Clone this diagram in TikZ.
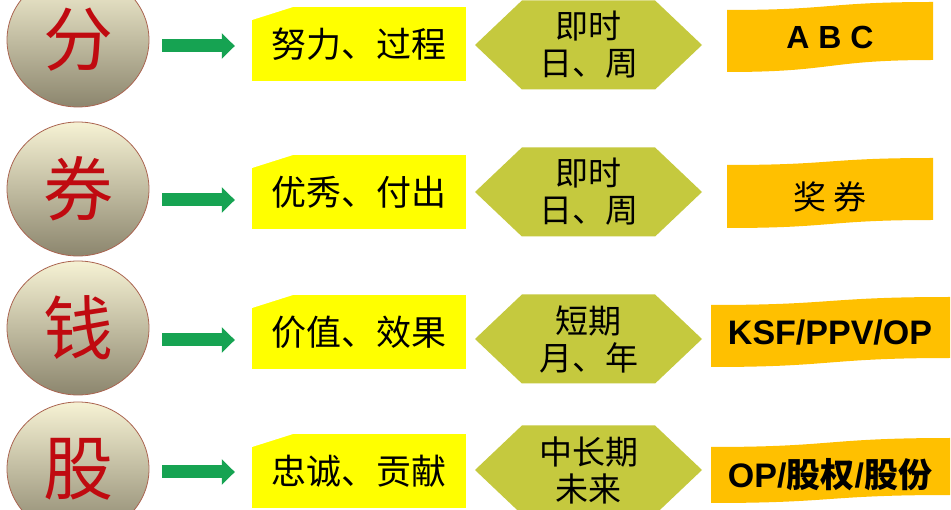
\documentclass[tikz,border=0pt]{standalone}
\usepackage{fontspec}
\setmainfont{Liberation Sans}
\newfontfamily\cjk{Noto Sans CJK SC}
\usetikzlibrary{shapes.geometric,shapes.symbols,arrows.meta}
\begin{document}
\begin{tikzpicture}[x=1pt,y=1pt,
  coin/.style={ellipse,draw=rimColor,line width=0.8pt,inner sep=0pt,
    minimum width=142pt,minimum height=134pt,
    top color=coinTop,middle color=coinMid,bottom color=coinBot,
    text=coinText,font=\cjk\fontsize{70}{70}\selectfont},
  tagbox/.style={rectangle,fill=tagColor,inner sep=0pt,
    minimum width=214pt,minimum height=74pt,
    path picture={\fill[white] (path picture bounding box.north west) -- ++(41pt,0)
      -- ++(-41pt,-13pt) -- cycle;},
    font=\cjk\fontsize{35}{35}\selectfont},
  hexbox/.style={signal,signal to=east and west,signal pointer angle=87,
    fill=hexColor,inner sep=0pt,minimum width=227pt,minimum height=89pt,
    align=center,font=\cjk\fontsize{33}{37}\selectfont},
  bannertext/.style={inner sep=0pt,font=\bfseries\fontsize{34}{34}\selectfont},
  flow/.style={draw=flowColor,line width=13pt,-{Triangle[length=13pt,width=25pt]},
    shorten <=13pt,shorten >=17pt}]
\definecolor{rimColor}{RGB}{170,100,80}
\definecolor{coinTop}{RGB}{246,242,212}
\definecolor{coinMid}{RGB}{214,208,172}
\definecolor{coinBot}{RGB}{140,134,110}
\definecolor{coinText}{RGB}{192,10,16}
\definecolor{tagColor}{RGB}{255,255,0}
\definecolor{hexColor}{RGB}{197,201,62}
\definecolor{bannerColor}{RGB}{255,192,0}
\definecolor{flowColor}{RGB}{22,163,82}
\path[use as bounding box,fill=white] (0,0) rectangle (951,509);
\begin{scope}
\path[clip] (0,0) rectangle (951,509);

% coins
\node[coin] (c1) at (78,469) {分};
\node[coin] (c2) at (78,320) {券};
\node[coin] (c3) at (78,181) {钱};
\node[coin] (c4) at (78, 40) {股};

% yellow tags
\node[tagbox] (b1) at (359,465) {努力、过程\hspace{12pt}};
\node[tagbox] (b2) at (359,317) {优秀、付出\hspace{12pt}};
\node[tagbox] (b3) at (359,177) {价值、效果\hspace{12pt}};
\node[tagbox] (b4) at (359, 38) {忠诚、贡献\hspace{12pt}};

\draw[flow] (c1.east |- 0,463) -- (b1.west |- 0,463);
\draw[flow] (c2.east |- 0,309) -- (b2.west |- 0,309);
\draw[flow] (c3.east |- 0,169) -- (b3.west |- 0,169);
\draw[flow] (c4.east |- 0, 37) -- (b4.west |- 0, 37);

% hexagons
\node[hexbox] (h1) at (588.5,464) {即时\\日、周};
\node[hexbox] (h2) at (588.5,317) {即时\\日、周};
\node[hexbox] (h3) at (588.5,170) {短期\\月、年};
\node[hexbox] (h4) at (588.5, 39) {中长期\\未来};

% banners
\path[fill=bannerColor] (727,499) .. controls (835,499) and (825,507) .. (933,507) --
	(933,449) .. controls (825,449) and (835,437) .. (727,437) -- cycle;
\path[fill=bannerColor] (727,344) .. controls (835,344) and (825,351) .. (933,351) --
	(933,289) .. controls (825,289) and (835,281) .. (727,281) -- cycle;
\path[fill=bannerColor] (711,204) .. controls (835,204) and (825,212) .. (950,212) --
	(950,151) .. controls (825,151) and (835,142) .. (711,142) -- cycle;
\path[fill=bannerColor] (711, 62) .. controls (835, 62) and (825, 71) .. (950, 71) --
	(950, 14) .. controls (825, 14) and (835,  6) .. (711,  6) -- cycle;

\node[bannertext,font=\bfseries\fontsize{32}{32}\selectfont] (r1) at (830,472) {A B C};
\node[bannertext,font=\cjk\fontsize{33}{33}\selectfont] (r2) at (830,312) {奖 券};
\node[bannertext] (r3) at (830,176) {KSF/PPV/OP};
\node[bannertext] (r4) at (830, 34) {OP/{\cjk 股权}/{\cjk 股份}};
\end{scope}
\end{tikzpicture}
\end{document}
